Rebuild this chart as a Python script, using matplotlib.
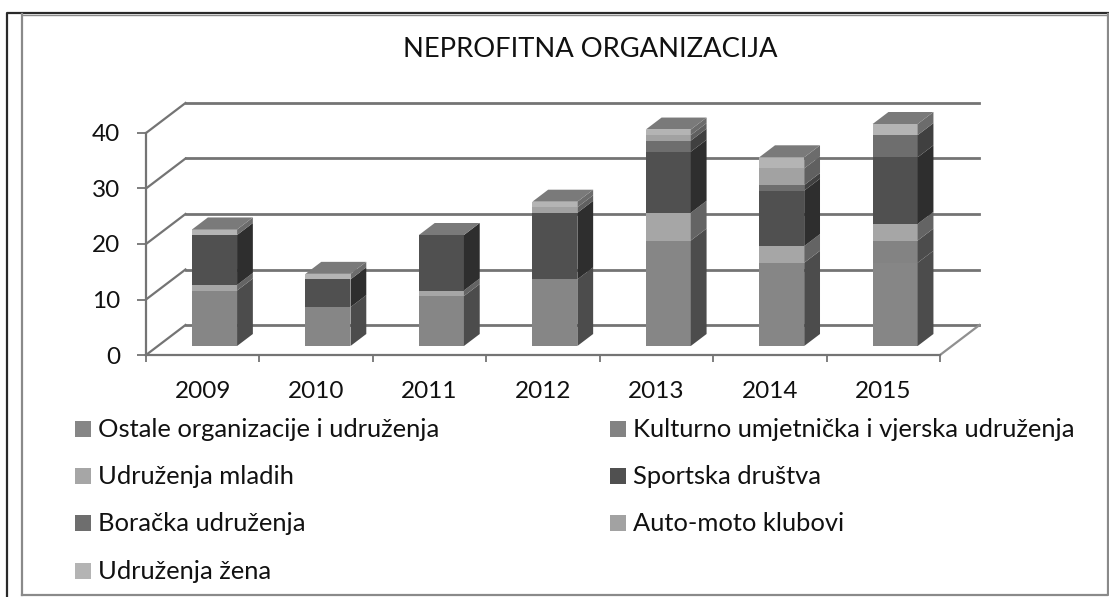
import matplotlib
matplotlib.use('Agg')
import matplotlib.pyplot as plt
from matplotlib.patches import Polygon, Rectangle
from matplotlib.lines import Line2D

plt.rcParams['font.family'] = ['Lato', 'DejaVu Sans']

years = ['2009', '2010', '2011', '2012', '2013', '2014', '2015']
series_names = ['Ostale organizacije i udruženja', 'Kulturno umjetnička i vjerska udruženja',
                'Udruženja mladih', 'Sportska društva', 'Boračka udruženja',
                'Auto-moto klubovi', 'Udruženja žena']
ostale = [10, 7, 9, 12, 19, 15, 15]
kulturno = [0, 0, 0, 0, 0, 0, 4]
mladi = [1, 0, 1, 0, 5, 3, 3]
sportska = [9, 5, 10, 12, 11, 10, 12]
boracka = [0, 0, 0, 0, 2, 1, 4]
auto_moto = [0, 0, 0, 1, 1, 3, 0]
zene = [1, 1, 0, 1, 1, 2, 2]
series = [ostale, kulturno, mladi, sportska, boracka, auto_moto, zene]

front_colors = ['#868686', '#838383', '#a6a6a6', '#505050', '#6e6e6e', '#a2a2a2', '#b4b4b4']
side_colors = ['#4c4c4c', '#4c4c4c', '#646464', '#2e2e2e', '#404040', '#606060', '#6c6c6c']
top_color = '#7a7a7a'
line_color = '#747474'

W, H = 1109, 597
fig = plt.figure(figsize=(W / 100, H / 100), dpi=100)
ax = fig.add_axes([146 / W, 1 - 355 / H, 794 / W, 222 / H])
ax.set_xlim(0, 7)
ax.set_ylim(0, 40)
ax.patch.set_alpha(0)

# depth of the fake 3d box, in data units
depth_x = 39.5 * 7 / 794
depth_y = 30 * 40 / 222
bar_w = 45 * 7 / 794
bar_front = 0.3
bar_back = 0.7

# walls and gridlines
for v in range(0, 50, 10):
    ax.plot([0, depth_x], [v, v + depth_y], color=line_color, lw=1.6, clip_on=False, zorder=1)
    ax.plot([depth_x, 7 + depth_x], [v + depth_y, v + depth_y], color=line_color, lw=2.0,
            clip_on=False, zorder=1)
ax.plot([7, 7 + depth_x], [0, depth_y], color='#909090', lw=1.6, clip_on=False, zorder=1)

# bars, stacked bottom to top
for i in range(len(years)):
    x0 = i + 0.5 - bar_w / 2 + depth_x * bar_front
    x1 = x0 + bar_w
    dx = depth_x * (bar_back - bar_front)
    dy = depth_y * (bar_back - bar_front)
    off = depth_y * bar_front
    bottom = 0
    for s, vals in enumerate(series):
        v = vals[i]
        if v == 0:
            continue
        y0 = bottom + off
        y1 = y0 + v
        ax.add_patch(Rectangle((x0, y0), bar_w, v, fc=front_colors[s], ec='none', clip_on=False, zorder=3))
        ax.add_patch(Polygon([(x1, y0), (x1 + dx, y0 + dy), (x1 + dx, y1 + dy), (x1, y1)],
                             fc=side_colors[s], ec='none', clip_on=False, zorder=3))
        bottom += v
    y_top = bottom + off
    ax.add_patch(Polygon([(x0, y_top), (x1, y_top), (x1 + dx, y_top + dy), (x0 + dx, y_top + dy)],
                         fc=top_color, ec='none', clip_on=False, zorder=3))

# axes
for side in ['top', 'right']:
    ax.spines[side].set_visible(False)
for side in ['left', 'bottom']:
    ax.spines[side].set_color(line_color)
    ax.spines[side].set_linewidth(1.6)
ax.set_yticks(range(0, 50, 10))
ax.set_xticks(range(8))
ax.set_xticklabels([])
ax.set_xticks([i + 0.5 for i in range(7)], minor=True)
ax.set_xticklabels(years, minor=True)
ax.tick_params(axis='x', which='major', length=5, width=1.3, color=line_color)
ax.tick_params(axis='x', which='minor', length=0, pad=19, labelsize=17.5, labelcolor='#111111')
ax.tick_params(axis='y', length=6.5, width=1.3, color=line_color, pad=12, labelsize=17.5, labelcolor='#111111')

fig.text(590 / W, 1 - 57 / H, 'NEPROFITNA ORGANIZACIJA', ha='center', va='baseline', fontsize=19.7, color='#111111')

# legend drawn by hand, two columns like the original
col_x = [75, 610]
row_y = [429, 476, 523, 571]
for k, name in enumerate(series_names):
    px = col_x[k % 2]
    py = row_y[k // 2]
    fig.add_artist(Rectangle((px / W, 1 - (py + 8) / H), 16 / W, 16 / H, fc=front_colors[k], ec='none',
                             transform=fig.transFigure))
    fig.text((px + 23) / W, 1 - (py + 8) / H, name, ha='left', va='baseline', fontsize=18.35, color='#111111')

# outer frames
def frame_line(xs, ys, color, lw):
    fig.add_artist(Line2D([x / W for x in xs], [1 - y / H for y in ys], color=color, lw=lw,
                          transform=fig.transFigure))

frame_line([6.5, 6.5, 1109], [597, 13, 13], '#2a2a2a', 1.6)
frame_line([21.5, 21.5], [14, 595], '#8a8a8a', 1.6)
frame_line([21.5, 1107.5, 1107.5], [595, 595, 14], '#8a8a8a', 1.6)
frame_line([21.5, 1107.5], [14.5, 14.5], '#8a8a8a', 1.0)

fig.savefig('out.png', dpi=100)
